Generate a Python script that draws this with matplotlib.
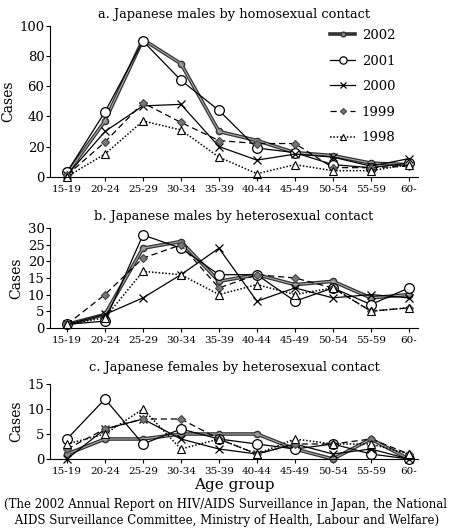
import numpy as np
import matplotlib.pyplot as plt

plt.rcParams['font.family'] = ['DejaVu Serif']

age_groups = ['15-19', '20-24', '25-29', '30-34', '35-39',
              '40-44', '45-49', '50-54', '55-59', '60-']
years = ['2002', '2001', '2000', '1999', '1998']

# a. males, homosexual contact
homo_m = {
    '2002': [2, 37, 91, 75, 30, 24, 16, 14, 9, 8],
    '2001': [3, 43, 90, 64, 44, 19, 16, 8, 6, 9],
    '2000': [1, 30, 47, 48, 20, 11, 15, 13, 7, 12],
    '1999': [1, 23, 49, 36, 24, 22, 22, 6, 6, 7],
    '1998': [0, 15, 37, 31, 13, 2, 8, 4, 4, 8],
}
# b. males, heterosexual contact
hetero_m = {
    '2002': [1, 4, 24, 26, 14, 16, 13, 14, 9, 10],
    '2001': [1, 2, 28, 24, 16, 16, 8, 12, 7, 12],
    '2000': [1, 4, 9, 16, 24, 8, 12, 9, 10, 9],
    '1999': [1, 10, 21, 25, 12, 16, 15, 12, 5, 6],
    '1998': [1, 3, 17, 16, 10, 13, 10, 12, 5, 6],
}
# c. females, heterosexual contact
hetero_f = {
    '2002': [1, 4, 4, 5, 5, 5, 2, 0, 4, 0],
    '2001': [4, 12, 3, 6, 4, 3, 2, 3, 1, 0],
    '2000': [0, 6, 8, 4, 2, 1, 3, 1, 2, 0],
    '1999': [2, 6, 8, 8, 4, 1, 3, 3, 4, 1],
    '1998': [3, 5, 10, 2, 4, 1, 4, 3, 3, 1],
}

styles = {
    '2002': dict(color='#333333', lw=2.6, ls='-', marker='o', ms=4.5,
                 mfc='#8a8a8a', mec='#333333', mew=1.0),
    '2001': dict(color='black', lw=0.9, ls='-', marker='o', ms=7,
                 mfc='white', mec='black', mew=0.9),
    '2000': dict(color='black', lw=0.9, ls='-', marker='x', ms=6,
                 mec='black', mew=0.9),
    '1999': dict(color='black', lw=0.9, ls=(0, (5, 3)), marker='D', ms=4,
                 mfc='#777777', mec='#444444', mew=0.8),
    '1998': dict(color='black', lw=1.1, ls=(0, (1, 1.2)), marker='^', ms=5.5,
                 mfc='white', mec='black', mew=0.8),
}

W, H = 450, 528
fig = plt.figure(figsize=(W / 100, H / 100), dpi=100)


def make_ax(top_px, bottom_px):
    left, right = 50, 418
    return fig.add_axes([left / W, 1 - bottom_px / H,
                         (right - left) / W, (bottom_px - top_px) / H])


panels = [
    (make_ax(26, 176.7), homo_m, 100, 20, 'a. Japanese males by homosexual contact', 6),
    (make_ax(228.3, 327.7), hetero_m, 30, 5, 'b. Japanese males by heterosexual contact', 6),
    (make_ax(384, 459), hetero_f, 15, 5, 'c. Japanese females by heterosexual contact', 9),
]

x = np.arange(len(age_groups))
for ax, data, ymax, step, title, tpad in panels:
    for y in years:
        ax.plot(x, data[y], label=y, clip_on=False, **styles[y])
        if y == '2002':
            # lighter core gives the double-line look
            ax.plot(x, data[y], color='#a8a8a8', lw=0.8, clip_on=False)
    ax.set_xlim(-0.447, 9.24)
    ax.set_ylim(0, ymax)
    ax.set_yticks(np.arange(0, ymax + 1, step))
    ax.set_xticks(x)
    ax.set_xticklabels(age_groups, fontsize=7.5)
    ax.tick_params(axis='y', labelsize=9.5, length=3, width=0.8, pad=1)
    ax.tick_params(axis='x', length=3, width=0.8, pad=3)
    for s in ['top', 'right']:
        ax.spines[s].set_visible(False)
    ax.set_ylabel('Cases', fontsize=10, labelpad=3)
    ax.set_title(title, fontsize=9.4, pad=tpad)

ax0 = panels[0][0]
handles, labels = ax0.get_legend_handles_labels()
ax0.legend(handles, labels, loc='upper left', frameon=False, fontsize=9.5,
           handlelength=1.9, handletextpad=0.5, labelspacing=0.95,
           markerscale=0.75, borderpad=0, borderaxespad=0,
           bbox_to_anchor=(280 / 368, 1 - 3 / 150.7))
panels[2][0].set_xlabel('Age group', fontsize=11, labelpad=1)

fig.text(0.5, 1 - 512.5 / H,
         '(The 2002 Annual Report on HIV/AIDS Surveillance in Japan, the National\n'
         ' AIDS Surveillance Committee, Ministry of Health, Labour and Welfare)',
         ha='center', va='center', fontsize=8.5, linespacing=1.25)

fig.savefig('out.png', dpi=100)
